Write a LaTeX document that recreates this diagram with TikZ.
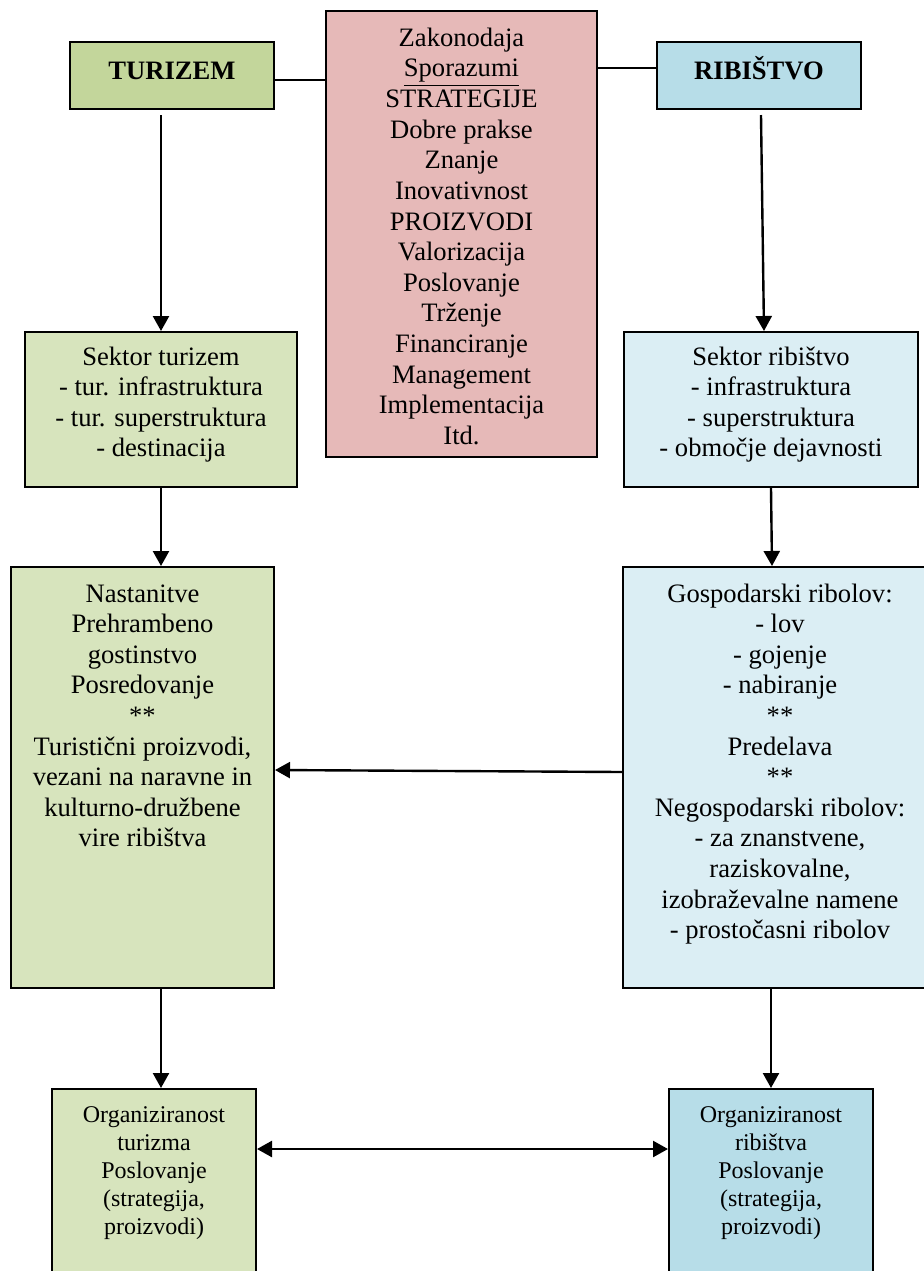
\documentclass[tikz,border=0pt]{standalone}
\usepackage{fontspec}
\setmainfont{Liberation Serif}
\usetikzlibrary{fit,arrows.meta}
\definecolor{tgreen}{HTML}{C3D69B}
\definecolor{lgreen}{HTML}{D7E4BD}
\definecolor{pinkbox}{HTML}{E6B9B8}
\definecolor{tblue}{HTML}{B7DDE8}
\definecolor{lblue}{HTML}{DBEEF4}
\newcommand{\mltext}[1]{\begin{tabular}[t]{@{}c@{}}#1\end{tabular}}
\tikzset{
  boxnode/.style={draw=black, line width=1pt, inner sep=0pt},
  txt/.style={inner sep=0pt, anchor=base, font=\fontsize{13.3}{15.3}\selectfont},
  smalltxt/.style={inner sep=0pt, anchor=base, font=\fontsize{12}{14}\selectfont},
  arr/.style={line width=1.2pt, -{Triangle[width=8pt,length=7.5pt]}},
  darr/.style={line width=1.2pt, {Triangle[width=8pt,length=7.5pt]}-{Triangle[width=8pt,length=7.5pt]}},
  link/.style={line width=0.9pt}
}
\begin{document}
\begin{tikzpicture}[x=0.5pt,y=-0.5pt]
\useasboundingbox (0,0) rectangle (924,1271);
\clip (0,0) rectangle (924,1271);
% boxes
\node[boxnode, fill=tgreen, fit={(70,42) (274,109)}] (tur) {};
\node[boxnode, fill=pinkbox, fit={(326,11) (597,457)}] (pink) {};
\node[boxnode, fill=tblue, fit={(657,42) (861,109)}] (rib) {};
\node[boxnode, fill=lgreen, fit={(25,332) (297,487)}] (sektT) {};
\node[boxnode, fill=lblue, fit={(624,332) (918,487)}] (sektR) {};
\node[boxnode, fill=lgreen, fit={(11,567) (274,988)}] (nast) {};
\node[boxnode, fill=lblue, fit={(623,567) (937,988)}] (gosp) {};
\node[boxnode, fill=lgreen, fit={(52,1089) (256,1300)}] (orgT) {};
\node[boxnode, fill=tblue, fit={(669,1089) (873,1300)}] (orgR) {};
% texts
\node[txt, font=\fontsize{13.3}{15.3}\selectfont\bfseries] (turT) at (172,79) {TURIZEM};
\node[txt, font=\fontsize{13.3}{15.3}\selectfont\bfseries] (ribT) at (759,79) {RIBIŠTVO};
\node[txt] (pinkT) at (461.5,46) {\mltext{Zakonodaja\\ \underline{Sporazumi}\\ STRATEGIJE\\ Dobre prakse\\ Znanje\\ Inovativnost\\ PROIZVODI\\ Valorizacija\\ Poslovanje\\ Trženje\\ Financiranje\\ Management\\ Implementacija\\ Itd.}};
\node[txt] (sektTT) at (161,365) {\mltext{Sektor turizem\\ - tur. infrastruktura\\ - tur. superstruktura\\ - destinacija}};
\node[txt] (sektRT) at (771,365) {\mltext{Sektor ribištvo\\ - infrastruktura\\ - superstruktura\\ - območje dejavnosti}};
\node[txt] (nastT) at (142.5,602) {\mltext{Nastanitve\\ Prehrambeno\\ gostinstvo\\ Posredovanje\\ \relax**\\ Turistični proizvodi,\\ vezani na naravne in\\ kulturno-družbene\\ vire ribištva}};
\node[txt] (gospT) at (780,602) {\mltext{Gospodarski ribolov:\\ - lov\\ - gojenje\\ - nabiranje\\ \relax**\\ Predelava\\ \relax**\\ Negospodarski ribolov:\\ - za znanstvene,\\ raziskovalne,\\ izobraževalne namene\\ - prostočasni ribolov}};
\node[smalltxt] (orgTT) at (154,1122) {\mltext{Organiziranost\\ turizma\\ Poslovanje\\ (strategija,\\ proizvodi)}};
\node[smalltxt] (orgRT) at (771,1122) {\mltext{Organiziranost\\ ribištva\\ Poslovanje\\ (strategija,\\ proizvodi)}};
% connectors
\draw[link] ([yshift=-2.25pt]tur.east) -- ([yshift=-2.25pt]tur.east -| pink.west);
\draw[link] ([yshift=3.75pt]pink.east |- rib.west) -- ([yshift=3.75pt]rib.west);
\draw[arr] ([yshift=-2.5pt]sektT.north |- tur.south) -- (sektT.north);
\draw[arr] ([xshift=1pt,yshift=-2.5pt]rib.south) -- ([xshift=-3.5pt]sektR.north);
\draw[arr] (sektT.south) -- (sektT.south |- nast.north);
\draw[arr] (sektR.south) -- ([xshift=0.5pt]sektR.south |- gosp.north);
\draw[arr] ([yshift=2.75pt]gosp.west) -- ([yshift=3.75pt]nast.east);
\draw[arr] ([xshift=3.5pt]orgT.north |- nast.south) -- ([xshift=3.5pt]orgT.north);
\draw[arr] (orgR.north |- gosp.south) -- (orgR.north);
\draw[darr] ([yshift=-30.5pt]orgT.north east) -- ([yshift=-30.5pt]orgR.north west);
\end{tikzpicture}
\end{document}
